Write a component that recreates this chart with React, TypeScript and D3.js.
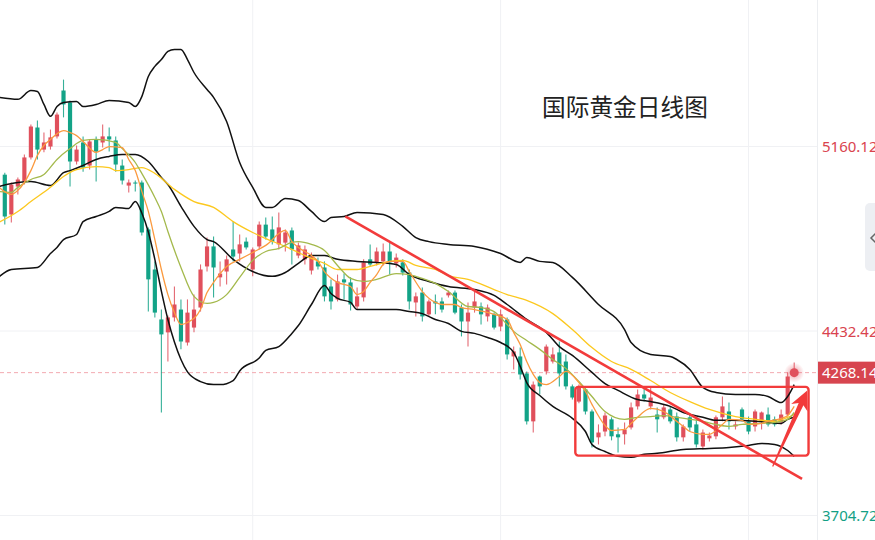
import React from 'react';
import * as d3 from 'd3';

const W = 875;
const H = 540;
const PLOT_RIGHT = 817;

const title = '国际黄金日线图';

// daily candles, oldest first
const opens = [
  5049, 4892, 5002, 5022, 5117, 5235, 5148, 5160, 5200, 5381, 5334, 5101, 5176, 5085, 5188, 5176, 5200, 5184, 5085, 5006,
  5018, 5018, 4833, 4675, 4478, 4427, 4486, 4517, 4387, 4446, 4525, 4687, 4766, 4644, 4667, 4754, 4738, 4785, 4675, 4766,
  4852, 4833, 4774, 4781, 4829, 4730, 4715, 4671, 4707, 4683, 4608, 4557, 4636, 4624, 4529, 4565, 4715, 4703, 4707, 4746,
  4699, 4703, 4663, 4545, 4584, 4498, 4549, 4549, 4573, 4584, 4525, 4470, 4525, 4529, 4490, 4498, 4450, 4478, 4332, 4332,
  4265, 4076, 4253, 4273, 4312, 4348, 4312, 4214, 4154, 4202, 4115, 4013, 4036, 4084, 4025, 4025, 4052, 4135, 4182, 4135,
  4103, 4092, 4123, 4095, 4013, 4092, 4064, 3977, 4009, 4017, 4092, 4115, 4056, 4123, 4076, 4056, 4076, 4103, 4084, 4072,
  4103, 4262,
];
const highs = [
  5057, 5018, 5038, 5129, 5247, 5263, 5215, 5227, 5294, 5424, 5342, 5164, 5200, 5188, 5200, 5247, 5235, 5200, 5109, 5030,
  5026, 5026, 4841, 4707, 4517, 4494, 4608, 4557, 4557, 4576, 4695, 4801, 4805, 4707, 4730, 4864, 4813, 4801, 4762, 4864,
  4880, 4884, 4900, 4833, 4841, 4781, 4770, 4742, 4722, 4707, 4636, 4655, 4659, 4644, 4604, 4715, 4774, 4762, 4778, 4781,
  4738, 4715, 4675, 4584, 4604, 4557, 4576, 4565, 4592, 4592, 4537, 4545, 4588, 4545, 4537, 4505, 4517, 4486, 4371, 4367,
  4273, 4233, 4257, 4379, 4367, 4391, 4340, 4221, 4221, 4210, 4123, 4064, 4111, 4092, 4052, 4072, 4150, 4202, 4210, 4210,
  4131, 4143, 4135, 4111, 4064, 4103, 4084, 4044, 4032, 4099, 4174, 4150, 4076, 4131, 4095, 4123, 4115, 4131, 4095, 4123,
  4269, 4308,
];
const lows = [
  4852, 4860, 4971, 5010, 5109, 5109, 5137, 5148, 5192, 5275, 5002, 5089, 5061, 5069, 5022, 5156, 5140, 5061, 5010, 4979,
  4983, 4809, 4509, 4486, 4111, 4312, 4470, 4360, 4375, 4427, 4509, 4667, 4565, 4608, 4616, 4707, 4707, 4754, 4648, 4754,
  4793, 4774, 4754, 4746, 4695, 4719, 4695, 4655, 4675, 4549, 4517, 4549, 4557, 4513, 4517, 4549, 4687, 4691, 4691, 4655,
  4683, 4651, 4517, 4490, 4470, 4490, 4498, 4505, 4565, 4498, 4411, 4371, 4505, 4458, 4470, 4438, 4431, 4320, 4281, 4241,
  4064, 4032, 4182, 4261, 4304, 4214, 4202, 4162, 4147, 4103, 3973, 3985, 4017, 4001, 3953, 3985, 4044, 4123, 4154, 4123,
  4032, 4084, 4068, 3997, 3997, 4036, 3973, 3965, 3997, 4005, 4076, 4044, 4044, 4076, 4025, 4036, 4044, 4056, 4056, 4064,
  4095, 4258,
];
const closes = [
  4884, 5010, 5030, 5117, 5239, 5148, 5176, 5196, 5286, 5326, 5101, 5148, 5077, 5180, 5140, 5200, 5188, 5089, 5026, 5018,
  5014, 4821, 4636, 4505, 4419, 4486, 4537, 4391, 4505, 4517, 4675, 4766, 4683, 4659, 4715, 4726, 4774, 4762, 4754, 4852,
  4805, 4785, 4841, 4821, 4754, 4770, 4754, 4726, 4687, 4569, 4549, 4628, 4624, 4537, 4569, 4703, 4695, 4746, 4746, 4703,
  4722, 4663, 4549, 4569, 4490, 4549, 4541, 4517, 4584, 4505, 4470, 4505, 4549, 4498, 4525, 4446, 4498, 4340, 4352, 4261,
  4076, 4221, 4214, 4371, 4340, 4265, 4214, 4170, 4210, 4115, 3993, 4032, 4099, 4017, 4013, 4044, 4131, 4182, 4166, 4170,
  4084, 4131, 4076, 4013, 4056, 4052, 3985, 4032, 4020, 4092, 4135, 4076, 4064, 4084, 4036, 4115, 4111, 4064, 4064, 4103,
  4253, 4268.14,
];

// [candle index, price]
const bollUpper: [number, number][] = [
  [-1, 5354], [2, 5346], [4, 5381], [5, 5377], [6, 5326], [7, 5279], [8, 5318], [9, 5334], [11, 5338], [12, 5318],
  [14, 5326], [16, 5342], [19, 5334], [20, 5318], [21, 5357], [22, 5436], [23, 5476], [24, 5503], [25, 5535], [26, 5543],
  [27, 5543], [28, 5503], [29, 5452], [31, 5385], [32, 5354], [34, 5259], [36, 5097], [38, 4999], [40, 4920], [41, 4920],
  [43, 4955], [45, 4947], [47, 4904], [49, 4864], [50, 4880], [52, 4884], [54, 4900], [58, 4892], [61, 4845], [63, 4801],
  [65, 4785], [68, 4774], [72, 4766], [76, 4738], [79, 4703], [80, 4722], [82, 4707], [84, 4703], [87, 4644], [91, 4537],
  [95, 4438], [96, 4387], [99, 4340], [102, 4332], [103, 4320], [105, 4281], [107, 4210], [109, 4190], [112, 4182],
  [115, 4182], [117, 4174], [119, 4150], [120, 4174], [121, 4221],
];
const bollMid: [number, number][] = [
  [-1, 5002], [2, 5018], [4, 5022], [7, 5006], [9, 5057], [10, 5065], [12, 5085], [14, 5109], [16, 5121], [18, 5129],
  [20, 5129], [22, 5101], [24, 5038], [25, 5010], [27, 4924], [29, 4845], [31, 4793], [32, 4785], [35, 4715], [38, 4667],
  [41, 4648], [43, 4663], [45, 4699], [47, 4730], [49, 4730], [51, 4715], [54, 4707], [57, 4703], [60, 4695], [62, 4655],
  [65, 4628], [68, 4608], [72, 4596], [75, 4573], [77, 4537], [80, 4478], [83, 4427], [85, 4371], [87, 4336], [90, 4269],
  [92, 4225], [94, 4198], [97, 4162], [99, 4154], [102, 4135], [104, 4111], [107, 4092], [109, 4080], [111, 4080],
  [115, 4076], [117, 4072], [119, 4068], [120, 4084], [121, 4092],
];
const bollLower: [number, number][] = [
  [-1, 4644], [1, 4675], [5, 4683], [7, 4738], [8, 4762], [9, 4793], [11, 4813], [12, 4864], [14, 4884], [16, 4904],
  [17, 4920], [19, 4916], [20, 4943], [21, 4898], [22, 4823], [23, 4715], [24, 4590], [25, 4478], [26, 4389], [27, 4320],
  [28, 4271], [30, 4233], [32, 4221], [33, 4221], [35, 4237], [36, 4275], [39, 4326], [40, 4356], [42, 4371], [44, 4423],
  [45, 4454], [47, 4537], [49, 4612], [50, 4580], [51, 4561], [53, 4545], [54, 4517], [57, 4517], [60, 4517], [62, 4509],
  [64, 4501], [66, 4478], [68, 4462], [70, 4431], [72, 4423], [74, 4407], [76, 4387], [78, 4348], [79, 4293], [80, 4229],
  [82, 4178], [84, 4135], [87, 4088], [89, 4036], [90, 3985], [92, 3957], [94, 3938], [96, 3934], [98, 3946], [100, 3950],
  [104, 3965], [108, 3969], [111, 3973], [114, 3981], [116, 3989], [118, 3985], [120, 3961], [121, 3938],
];
const ma5: [number, number][] = [
  [-1, 5002], [1, 4971], [2, 4987], [4, 5065], [5, 5125], [6, 5164], [7, 5188], [9, 5223], [10, 5215], [11, 5203],
  [12, 5180], [14, 5137], [15, 5148], [16, 5160], [18, 5156], [19, 5109], [20, 5065], [21, 4983], [22, 4904], [23, 4793],
  [24, 4675], [25, 4576], [26, 4505], [27, 4458], [28, 4466], [30, 4517], [31, 4584], [32, 4624], [33, 4659], [34, 4687],
  [36, 4715], [38, 4742], [40, 4770], [43, 4829], [44, 4785], [45, 4762], [47, 4730], [48, 4707], [49, 4667], [51, 4624],
  [53, 4608], [54, 4576], [55, 4588], [56, 4624], [57, 4655], [58, 4695], [59, 4707], [61, 4707], [62, 4667], [64, 4588],
  [66, 4545], [67, 4537], [69, 4537], [70, 4525], [72, 4517], [75, 4498], [77, 4478], [78, 4427], [79, 4379], [80, 4312],
  [81, 4261], [82, 4229], [83, 4221], [85, 4253], [86, 4273], [88, 4229], [89, 4194], [90, 4143], [92, 4060], [93, 4040],
  [95, 4044], [96, 4068], [97, 4092], [98, 4115], [99, 4127], [101, 4115], [103, 4076], [104, 4056], [105, 4036],
  [107, 4025], [108, 4025], [110, 4064], [111, 4084], [113, 4080], [114, 4064], [116, 4068], [117, 4076], [119, 4088],
  [120, 4099], [121, 4135],
];
const ma10: [number, number][] = [
  [-1, 4983], [1, 4979], [2, 4999], [4, 5030], [6, 5050], [8, 5109], [10, 5152], [12, 5184], [14, 5188], [17, 5176],
  [18, 5152], [20, 5097], [21, 5054], [23, 4959], [24, 4904], [25, 4825], [27, 4683], [29, 4569], [31, 4541], [32, 4545],
  [34, 4576], [36, 4644], [38, 4711], [40, 4746], [42, 4758], [44, 4782], [45, 4785], [47, 4774], [49, 4750], [51, 4691],
  [53, 4640], [55, 4628], [57, 4636], [60, 4659], [62, 4655], [63, 4648], [66, 4620], [68, 4588], [71, 4529], [73, 4525],
  [75, 4509], [77, 4458], [78, 4431], [80, 4395], [82, 4360], [84, 4320], [86, 4285], [88, 4233], [90, 4174], [92, 4115],
  [95, 4084], [97, 4092], [99, 4095], [101, 4099], [103, 4092], [107, 4076], [109, 4064], [111, 4056], [113, 4064],
  [116, 4068], [118, 4072], [120, 4084], [121, 4111],
];
const ma20: [number, number][] = [
  [-1, 4860], [2, 4904], [4, 4943], [7, 4999], [9, 5042], [11, 5069], [14, 5081], [16, 5077], [17, 5065], [19, 5069],
  [21, 5077], [23, 5054], [26, 4991], [29, 4943], [32, 4920], [35, 4864], [38, 4821], [40, 4797], [43, 4766], [45, 4742],
  [47, 4719], [49, 4699], [51, 4675], [54, 4675], [56, 4687], [59, 4707], [61, 4711], [63, 4691], [66, 4675], [68, 4651],
  [71, 4636], [75, 4596], [77, 4576], [80, 4553], [84, 4501], [87, 4438], [90, 4367], [93, 4312], [96, 4281], [99, 4237],
  [102, 4190], [105, 4154], [108, 4123], [112, 4095], [115, 4084], [118, 4076], [120, 4092], [121, 4103],
];

const priceTicks = [5160.12, 4432.42, 3704.72];
const gridIdx = [38, 76, 114];

// hand-drawn annotations, as [candle index, price]
const trendLine: [number, number][] = [[52.2, 4885], [122.2, 3849]];
const rangeBoxIdx = [87.45, 123.2];
const rangeBoxPrice = [4212, 3941];
const arrowTailTip: [number, number][] = [[117.7, 3898], [123.0, 4198]];

const UP = '#e0505c';
const DOWN = '#13a387';
const MARK = '#f23b3b';
const FONT = '"Noto Sans", "Noto Sans CJK SC", sans-serif';

const x = d3.scaleLinear().domain([0, 121]).range([4.8, 794.2]);
const y = d3.scaleLinear().domain([3704.72, 5160.12]).range([515.5, 146.5]);

const lineGen = d3
  .line<[number, number]>()
  .x((d) => x(d[0]))
  .y((d) => y(d[1]))
  .curve(d3.curveMonotoneX);

function arrowPath(): string {
  const [t, h] = arrowTailTip;
  const tx = x(t[0]), ty = y(t[1]);
  const hx = x(h[0]), hy = y(h[1]);
  const len = Math.hypot(hx - tx, hy - ty);
  const ux = (hx - tx) / len, uy = (hy - ty) / len;
  const nx = -uy, ny = ux;
  const at = (along: number, side: number) =>
    [hx - ux * along + nx * side, hy - uy * along + ny * side].join(',');
  return (
    `M${hx},${hy} L${at(19, 9)} L${at(15, 2.6)} L${tx + nx * 0.6},${ty + ny * 0.6} ` +
    `L${tx - nx * 0.6},${ty - ny * 0.6} L${at(15, -2.6)} L${at(19, -9)} Z`
  );
}

const App: React.FC = () => {
  const bodyW = (x(1) - x(0)) * 0.64;
  const last = closes[closes.length - 1];
  const lastY = y(last);
  const lastX = x(closes.length - 1);

  return (
    <div style={{ position: 'absolute', left: 0, top: 0 }}>
      <svg width={W} height={H} style={{ display: 'block', background: '#fff' }}>
        <defs>
          <clipPath id="plot">
            <rect x={0} y={0} width={PLOT_RIGHT} height={H} />
          </clipPath>
          <radialGradient id="glow">
            <stop offset="0%" stopColor={UP} stopOpacity={0.55} />
            <stop offset="100%" stopColor={UP} stopOpacity={0} />
          </radialGradient>
        </defs>

        {/* grid */}
        {priceTicks.map((t) => (
          <line key={t} x1={0} x2={PLOT_RIGHT} y1={y(t)} y2={y(t)} stroke="#f0f1f4" />
        ))}
        {gridIdx.map((g) => (
          <line key={g} x1={x(g)} x2={x(g)} y1={0} y2={H} stroke="#f0f1f4" />
        ))}
        <line x1={PLOT_RIGHT + 0.5} x2={PLOT_RIGHT + 0.5} y1={0} y2={H} stroke="#eceef1" />

        <g clipPath="url(#plot)">
          <line x1={0} x2={PLOT_RIGHT} y1={lastY} y2={lastY} stroke="#f3a9b0" strokeDasharray="4 3" />

          {opens.map((o, i) => {
            const c = closes[i];
            const col = c >= o ? UP : DOWN;
            const top = y(Math.max(o, c));
            const bot = y(Math.min(o, c));
            return (
              <g key={i}>
                <line x1={x(i)} x2={x(i)} y1={y(highs[i])} y2={y(lows[i])} stroke={col} strokeWidth={1.1} opacity={0.85} />
                <rect x={x(i) - bodyW / 2} y={top} width={bodyW} height={Math.max(1, bot - top)} fill={col} />
              </g>
            );
          })}

          <path d={lineGen(bollUpper) || ''} fill="none" stroke="#111" strokeWidth={1.5} />
          <path d={lineGen(bollMid) || ''} fill="none" stroke="#111" strokeWidth={1.5} />
          <path d={lineGen(bollLower) || ''} fill="none" stroke="#111" strokeWidth={1.5} />
          <path d={lineGen(ma20) || ''} fill="none" stroke="#fcc81e" strokeWidth={1.3} />
          <path d={lineGen(ma10) || ''} fill="none" stroke="#a4b94c" strokeWidth={1.3} />
          <path d={lineGen(ma5) || ''} fill="none" stroke="#fb9a3f" strokeWidth={1.3} />

          {/* annotations */}
          <line
            x1={x(trendLine[0][0])}
            y1={y(trendLine[0][1])}
            x2={x(trendLine[1][0])}
            y2={y(trendLine[1][1])}
            stroke={MARK}
            strokeWidth={2.6}
          />
          <rect
            x={x(rangeBoxIdx[0])}
            y={y(rangeBoxPrice[0])}
            width={x(rangeBoxIdx[1]) - x(rangeBoxIdx[0])}
            height={y(rangeBoxPrice[1]) - y(rangeBoxPrice[0])}
            rx={3}
            fill="none"
            stroke={MARK}
            strokeWidth={2.4}
          />
          <path d={arrowPath()} fill={MARK} />

          <circle cx={lastX} cy={lastY} r={10} fill="url(#glow)" />
          <circle cx={lastX} cy={lastY} r={4.5} fill={UP} />
        </g>

        <text x={542} y={116} fontFamily={FONT} fontSize={23.7} fill="#222">
          {title}
        </text>

        {/* price axis */}
        {priceTicks.map((t) => (
          <text
            key={t}
            x={822}
            y={y(t) + 1.5}
            dominantBaseline="middle"
            fontFamily={FONT}
            fontSize={15}
            fill={t > last ? '#d9434e' : '#139f85'}
          >
            {t.toFixed(2)}
          </text>
        ))}
        <rect x={818} y={lastY - 11} width={W - 818} height={22} fill="#d7454f" />
        <text x={822} y={lastY + 1} dominantBaseline="middle" fontFamily={FONT} fontSize={15} fill="#fff">
          {last.toFixed(2)}
        </text>

        {/* side handle */}
        <rect x={865} y={203} width={24} height={68} rx={5} fill="#edeff3" />
        <path d="M876,233 L871,238 L876,243" fill="none" stroke="#666" strokeWidth={1.5} />
      </svg>
    </div>
  );
};

export default App;
